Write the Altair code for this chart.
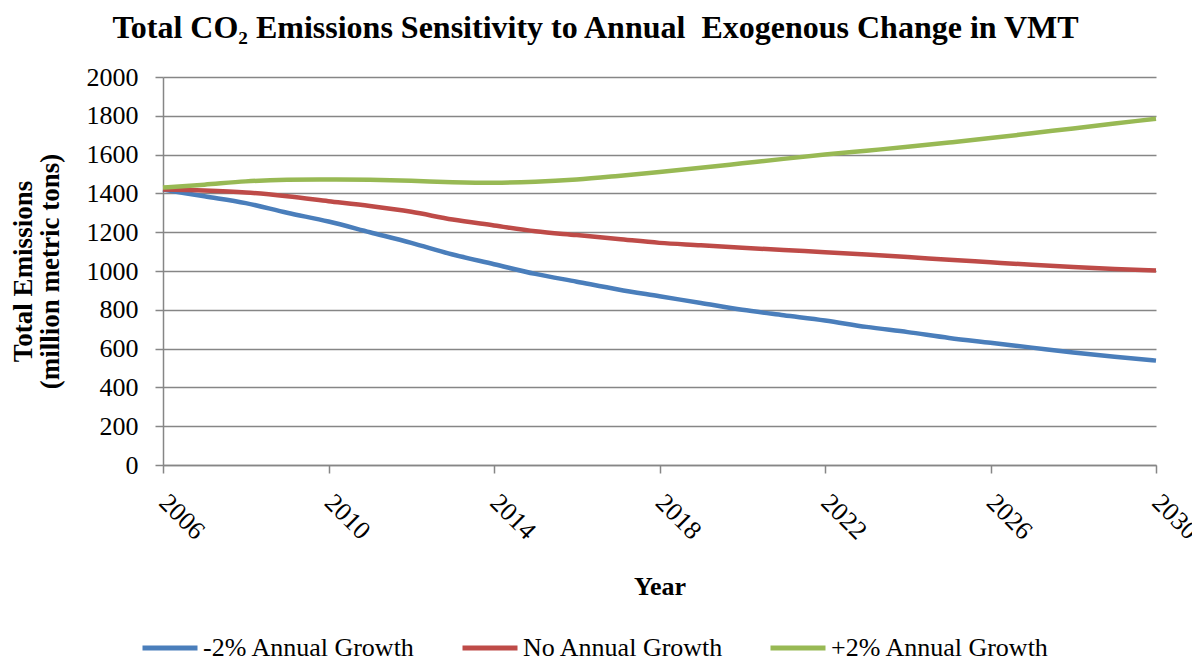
import altair as alt
import pandas as pd

years = list(range(2006, 2031))
minus2 = [1420, 1385, 1350, 1300, 1255, 1200, 1145, 1085, 1035, 985, 945, 905, 870,
          835, 800, 772, 745, 712, 685, 655, 630, 605, 580, 558, 538]
nogrowth = [1420, 1415, 1405, 1385, 1360, 1335, 1305, 1265, 1235, 1205, 1185, 1165, 1145,
            1133, 1120, 1108, 1097, 1085, 1072, 1058, 1045, 1032, 1020, 1010, 1002]
plus2 = [1430, 1445, 1462, 1470, 1472, 1470, 1465, 1458, 1455, 1460, 1472, 1490, 1510,
         1532, 1555, 1578, 1600, 1620, 1640, 1662, 1685, 1710, 1735, 1760, 1785]
series_names = ["-2% Annual Growth", "No Annual Growth", "+2% Annual Growth"]
colors = ["#4A7EBB", "#BE4B48", "#98B954"]
x_ticks = [2006, 2010, 2014, 2018, 2022, 2026, 2030]
y_ticks = list(range(0, 2001, 200))

rows = []
for name, vals in zip(series_names, [minus2, nogrowth, plus2]):
    for y, v in zip(years, vals):
        rows.append({"Year": y, "Emissions": v, "Series": name})
df = pd.DataFrame(rows)

font = "Liberation Serif"

chart = alt.Chart(df).mark_line(strokeWidth=4.5, interpolate="monotone").encode(
    x=alt.X("Year:Q",
            scale=alt.Scale(domain=[2006, 2030], nice=False, zero=False),
            axis=alt.Axis(values=x_ticks, format="d", grid=False, title="Year",
                          labelAngle=45, labelAlign="left", labelBaseline="middle",
                          labelPadding=25, labelFontSize=26, labelFont=font,
                          labelColor="black", tickSize=8, tickColor="#868686",
                          tickWidth=1.5, domainColor="#868686", domainWidth=1.5,
                          titleFont=font, titleFontSize=26, titleFontWeight="bold",
                          titleColor="black", titlePadding=30,
                          labelOverlap=False, labelFlush=False)),
    y=alt.Y("Emissions:Q",
            scale=alt.Scale(domain=[0, 2000], nice=False),
            axis=alt.Axis(values=y_ticks, format="d", grid=True, gridColor="#868686",
                          gridWidth=1.5,
                          title=["Total Emissions", "(million metric tons)"],
                          labelFontSize=26, labelFont=font, labelColor="black",
                          labelPadding=17, tickSize=8, tickColor="#868686", tickWidth=1.5,
                          domainColor="#868686", domainWidth=1.5,
                          titleFont=font, titleFontSize=27, titleFontWeight="bold",
                          titleColor="black", titlePadding=22, titleLineHeight=27)),
    color=alt.Color("Series:N",
                    scale=alt.Scale(domain=series_names, range=colors),
                    sort=series_names,
                    legend=alt.Legend(title=None, orient="none", direction="horizontal",
                                      legendX=-23, legendY=541,
                                      symbolType="stroke", symbolSize=3025,
                                      symbolStrokeWidth=5, labelFont=font,
                                      labelFontSize=26, labelColor="black",
                                      labelLimit=400,
                                      columnPadding=36, labelOffset=3,
                                      symbolOffset=0, padding=0))
).properties(
    width=993, height=388,
    title=alt.TitleParams("Total CO₂ Emissions Sensitivity to Annual\u00a0 Exogenous Change in VMT",
                          font=font, fontSize=32, fontWeight="bold", color="black",
                          anchor="middle", offset=19, dx=-64),
    autosize=alt.AutoSizeParams(type="none"),
    padding={"left": 155, "top": 69, "right": 36, "bottom": 198}
).configure_view(stroke=None)

chart.save("out.html", embed_options={"renderer": "svg", "actions": False})
